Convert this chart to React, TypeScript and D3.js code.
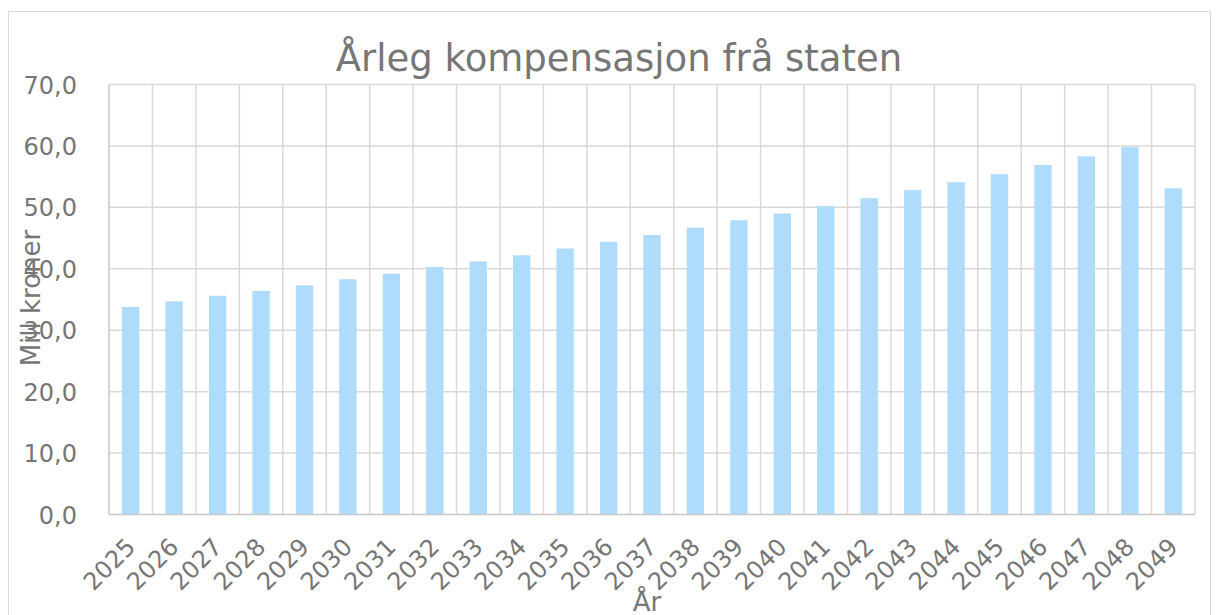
import * as d3 from "d3";
import { useEffect, useRef } from "react";

const years = [
  "2025", "2026", "2027", "2028", "2029", "2030", "2031", "2032", "2033",
  "2034", "2035", "2036", "2037", "2038", "2039", "2040", "2041", "2042",
  "2043", "2044", "2045", "2046", "2047", "2048", "2049",
];
const values = [
  33.8, 34.7, 35.6, 36.4, 37.3, 38.3, 39.2, 40.3, 41.2, 42.2, 43.3, 44.4,
  45.5, 46.7, 47.9, 49.0, 50.2, 51.5, 52.8, 54.1, 55.4, 56.9, 58.3, 59.8, 53.1,
];
const yTicks = [0, 10, 20, 30, 40, 50, 60, 70];

const FONT = "'DejaVu Sans', Verdana, sans-serif";
const TEXT = "#767676";

const App = () => {
  const ref = useRef<SVGSVGElement>(null);

  useEffect(() => {
    const svg = d3.select(ref.current);
    svg.selectAll("*").remove();

    const width = 1216;
    const height = 615;
    const left = 109;
    const right = 1195;
    const top = 84.5;
    const bottom = 514.5;

    svg.attr("width", width).attr("height", height);

    // chart border
    svg
      .append("rect")
      .attr("x", 8.5)
      .attr("y", 11.5)
      .attr("width", 1202)
      .attr("height", 620)
      .attr("fill", "#fff")
      .attr("stroke", "#d9d9d9");

    const x = d3.scaleBand().domain(years).range([left, right]).padding(0);
    const y = d3.scaleLinear().domain([0, 70]).range([bottom, top]);

    // horizontal grid
    svg
      .append("g")
      .selectAll("line")
      .data(yTicks.slice(1))
      .join("line")
      .attr("x1", left)
      .attr("x2", right)
      .attr("y1", (d) => y(d))
      .attr("y2", (d) => y(d))
      .attr("stroke", "#d9d9d9")
      .attr("stroke-width", 1.5);

    // vertical grid at category boundaries
    svg
      .append("g")
      .selectAll("line")
      .data(years)
      .join("line")
      .attr("x1", (d) => x(d)! + x.step())
      .attr("x2", (d) => x(d)! + x.step())
      .attr("y1", top)
      .attr("y2", bottom)
      .attr("stroke", "#d9d9d9")
      .attr("stroke-width", 1.5);

    // bars (gap width 150%)
    const bw = x.bandwidth() * 0.4;
    svg
      .append("g")
      .selectAll("rect")
      .data(values)
      .join("rect")
      .attr("x", (d, i) => x(years[i])! + x.bandwidth() / 2 - bw / 2)
      .attr("y", (d) => y(d))
      .attr("width", bw)
      .attr("height", (d) => bottom - y(d))
      .attr("fill", "#afdcfd");

    // axis lines
    svg
      .append("line")
      .attr("x1", left)
      .attr("x2", left)
      .attr("y1", top)
      .attr("y2", bottom)
      .attr("stroke", "#c8c8c8")
      .attr("stroke-width", 1.5);
    svg
      .append("line")
      .attr("x1", left)
      .attr("x2", right)
      .attr("y1", bottom)
      .attr("y2", bottom)
      .attr("stroke", "#c8c8c8")
      .attr("stroke-width", 1.5);

    // y tick labels
    svg
      .append("g")
      .selectAll("text")
      .data(yTicks)
      .join("text")
      .attr("x", 77)
      .attr("y", (d) => y(d) + 9)
      .attr("text-anchor", "end")
      .attr("font-family", FONT)
      .attr("font-size", 24)
      .attr("fill", TEXT)
      .text((d) => d.toFixed(1).replace(".", ","));

    // x tick labels
    svg
      .append("g")
      .selectAll("text")
      .data(years)
      .join("text")
      .attr(
        "transform",
        (d) => `translate(${x(d)! + x.bandwidth() / 2 + 6},${bottom + 34}) rotate(-45)`
      )
      .attr("text-anchor", "end")
      .attr("font-family", FONT)
      .attr("font-size", 24)
      .attr("fill", TEXT)
      .text((d) => d);

    // title
    svg
      .append("text")
      .attr("x", 619)
      .attr("y", 71)
      .attr("text-anchor", "middle")
      .attr("font-family", FONT)
      .attr("font-size", 37)
      .attr("fill", TEXT)
      .text("Årleg kompensasjon frå staten");

    // axis titles
    svg
      .append("text")
      .attr("transform", `translate(40,298) rotate(-90)`)
      .attr("text-anchor", "middle")
      .attr("font-family", FONT)
      .attr("font-size", 26)
      .attr("fill", TEXT)
      .text("Mill kroner");
    svg
      .append("text")
      .attr("x", 647)
      .attr("y", 611)
      .attr("text-anchor", "middle")
      .attr("font-family", FONT)
      .attr("font-size", 26)
      .attr("fill", TEXT)
      .text("År");
  }, []);

  return (
    <svg
      ref={ref}
      style={{ position: "absolute", left: 0, top: 0, display: "block" }}
    ></svg>
  );
};

export default App;
